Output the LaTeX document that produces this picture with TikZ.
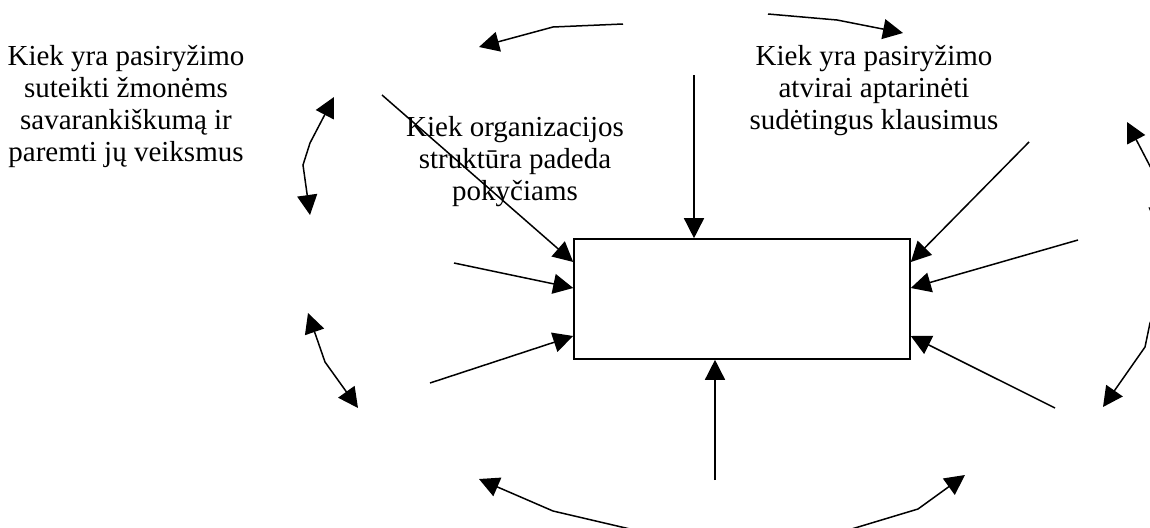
\documentclass[tikz,border=0pt]{standalone}
\usepackage{fontspec}
\setmainfont{Liberation Serif}
\usetikzlibrary{arrows.meta,calc}
\tikzset{
  conn/.style={line width=1.5pt, -{Triangle[length=20pt,width=20pt]}},
  dconn/.style={line width=1.5pt, {Triangle[length=20pt,width=20pt]}-{Triangle[length=20pt,width=20pt]}},
  lbl/.style={align=center, inner sep=0pt, anchor=base, font=\fontsize{29}{32}\selectfont},
  boxst/.style={draw, line width=1.6pt, minimum width=336pt, minimum height=120pt, inner sep=0pt}
}
\begin{document}
\begin{tikzpicture}[x=1pt,y=-1pt]
\useasboundingbox (0,0) rectangle (1150,527);
\begin{scope}
\clip (0,0) rectangle (1150,527);
% texts (anchor = baseline of the last line)
\node[lbl] (tleft) at (126,161) {Kiek yra pasiryžimo\\suteikti žmonėms\\savarankiškumą ir\\paremti jų veiksmus};
\node[lbl] (tmid) at (515,200) {Kiek organizacijos\\struktūra padeda\\pokyčiams};
\node[lbl] (tright) at (874,129) {Kiek yra pasiryžimo\\atvirai aptarinėti\\sudėtingus klausimus};
% central box
\node[boxst] (box) at (742,299) {};
% endpoints on the box
\coordinate (bl1) at ($(box.west)+(0,-37)$);
\coordinate (bl2) at ($(box.west)+(0,-11)$);
\coordinate (bl3) at ($(box.west)+(0,37)$);
\coordinate (br1) at ($(box.east)+(0,-37)$);
\coordinate (br2) at ($(box.east)+(0,-11)$);
\coordinate (br3) at ($(box.east)+(0,37)$);
\coordinate (bt) at ($(box.north)+(-48,0)$);
\coordinate (bb) at ($(box.south)+(-27,0)$);
% free ends
\coordinate (sl1) at (382,95);
\coordinate (sl2) at (454,263);
\coordinate (sl3) at (430,383);
\coordinate (sr1) at (1029,142);
\coordinate (sr2) at (1078,240);
\coordinate (sr3) at (1055,408);
\coordinate (st) at (694,75);
\coordinate (sb) at (715,480);
% connectors into the box
\draw[conn] (sl1) -- (bl1);
\draw[conn] (sl2) -- (bl2);
\draw[conn] (sl3) -- (bl3);
\draw[conn] (sr1) -- (br1);
\draw[conn] (sr2) -- (br2);
\draw[conn] (sr3) -- (br3);
\draw[conn] (st) -- (bt);
\draw[conn] (sb) -- (bb);
% surrounding arcs
\draw[conn] (623,24) -- (553,27) -- (479,47);
\draw[conn] (768,14) -- (837,20) -- (903,33);
\draw[dconn] (334,97) -- (310,143) -- (303,165) -- (310,215);
\draw[dconn] (308,313) -- (325,362) -- (358,408);
\draw[conn] (660,536) -- (553,511) -- (479,479);
\draw[conn] (825,537) -- (918,509) -- (965,475);
\draw[dconn] (1127,122) -- (1152,170) -- (1160,190) -- (1157,228);
\draw[dconn] (1170,285) -- (1150,323) -- (1145,347) -- (1103,407);
\end{scope}
\end{tikzpicture}
\end{document}
